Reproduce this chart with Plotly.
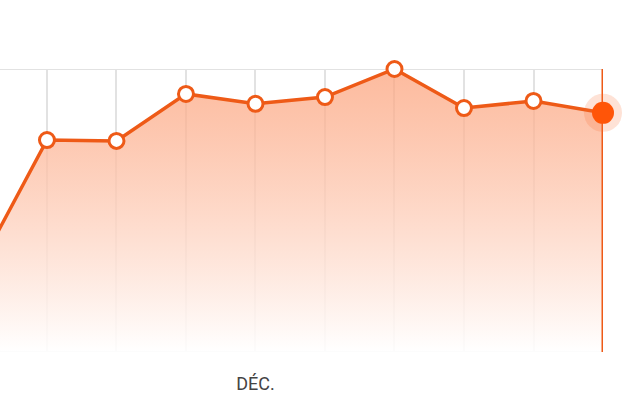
import plotly.graph_objects as go

# data
x_pos = [0, 1, 2, 3, 4, 5, 6, 7, 8, 9]
values = [29, 74.9, 74.6, 91.2, 87.7, 90.1, 100, 86.2, 88.7, 84.5]
tick_vals = [4]
tick_text = ["DÉC."]
y_min, y_max = 0, 100

ORANGE = "#ee5a17"
GRID = "#e2e2e2"

fig = go.Figure()

fig.add_trace(go.Scatter(
    x=x_pos, y=values, mode="lines",
    line=dict(color=ORANGE, width=3.5),
    fill="tozeroy",
    fillgradient=dict(type="vertical",
                      colorscale=[[0, "rgba(255,255,255,0.9)"],
                                  [1, "rgba(252,160,120,0.72)"]]),
    hoverinfo="skip", showlegend=False,
))

# cursor line at the last point
fig.add_trace(go.Scatter(
    x=[x_pos[-1], x_pos[-1]], y=[y_min, y_max], mode="lines",
    line=dict(color=ORANGE, width=3), hoverinfo="skip", showlegend=False,
))

fig.add_trace(go.Scatter(
    x=x_pos[:-1], y=values[:-1], mode="markers",
    marker=dict(size=15, color="white", line=dict(color=ORANGE, width=3)),
    cliponaxis=False, showlegend=False,
))

# halo + highlighted last point
fig.add_trace(go.Scatter(
    x=[x_pos[-1]], y=[values[-1]], mode="markers",
    marker=dict(size=38, color="rgba(250,110,50,0.2)"),
    cliponaxis=False, showlegend=False,
))
fig.add_trace(go.Scatter(
    x=[x_pos[-1]], y=[values[-1]], mode="markers",
    marker=dict(size=22, color="#ff5508"),
    cliponaxis=False, showlegend=False,
))

for yv in (y_min, y_max):
    fig.add_shape(type="line", xref="paper", yref="y", x0=0, x1=1,
                  y0=yv, y1=yv, line=dict(color=GRID, width=2), layer="below")

fig.update_layout(
    width=622, height=413,
    margin=dict(l=0, r=19, t=69, b=61),
    paper_bgcolor="white", plot_bgcolor="white",
    font=dict(family="Roboto, sans-serif", size=18, color="#444"),
    xaxis=dict(range=[0.324, 9], tickvals=[1, 2, 3, 4, 5, 6, 7, 8, 9],
               ticktext=["", "", "", tick_text[0], "", "", "", "", ""],
               showgrid=True, gridcolor=GRID, gridwidth=1.5,
               zeroline=False, showline=False, ticks="",
               ticklabelstandoff=19, fixedrange=True),
    yaxis=dict(range=[y_min, y_max], showticklabels=False, showgrid=False,
               zeroline=False, fixedrange=True),
)

fig.write_html("out.html", config={"displayModeBar": False},
               post_script="document.body.style.margin='0px';")
